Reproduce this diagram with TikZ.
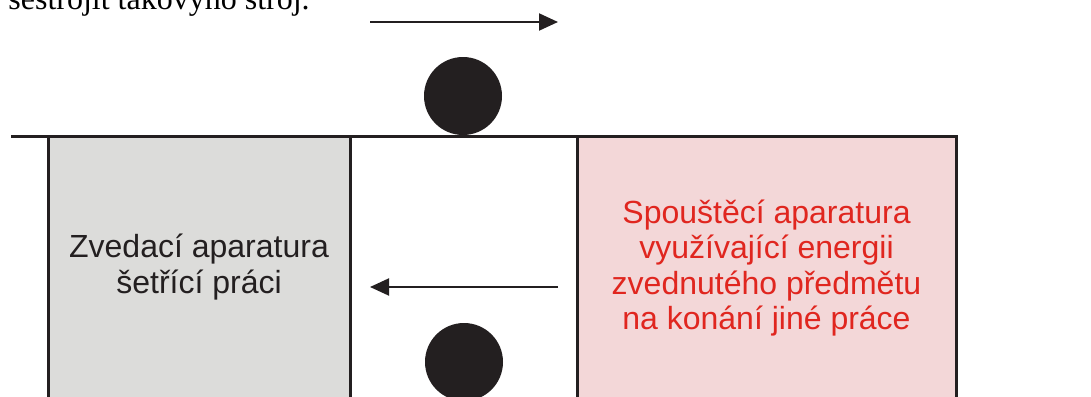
\documentclass[tikz,border=0pt]{standalone}
\usepackage{fontspec}
\setmainfont{Liberation Serif}
\setsansfont{Liberation Sans}
\usetikzlibrary{arrows.meta}
\definecolor{ink}{HTML}{231F20}
\definecolor{grayfill}{HTML}{DCDCDA}
\definecolor{pinkfill}{HTML}{F3D7D8}
\definecolor{redtext}{HTML}{E0261F}
\begin{document}
\begin{tikzpicture}[x=0.5pt,y=-0.5pt,
  box/.style={draw=ink, line width=1.5pt, inner sep=0pt, minimum height=142pt},
  label/.style={font=\sffamily\fontsize{16}{17.75}\selectfont, align=center, inner sep=0pt},
  ball/.style={circle, fill=ink, draw=none, inner sep=0pt, minimum size=39pt},
  move/.style={draw=ink, line width=1pt, -{Triangle[length=9.5pt,width=8.5pt]}},
  floor/.style={draw=ink, line width=1.5pt}]
\useasboundingbox (0,0) rectangle (1091,396);
\clip (0,0) rectangle (1091,396);
\node[anchor=base west, inner sep=0pt, font=\fontsize{16}{18}\selectfont] (caption) at (8,10) {sestrojit takovýho stroj.};
\node[box, fill=grayfill, minimum width=151pt] (lift) at (199,278) {};
\node[box, fill=pinkfill, minimum width=189.5pt] (release) at (766.5,278) {};
\node[label, text=ink] (liftlabel) at (199,267) {Zvedací aparatura\\šetřící práci};
\node[label, text=redtext] (releaselabel) at (766.5,268) {Spouštěcí aparatura\\využívající energii\\zvednutého předmětu\\na konání jiné práce};
\coordinate (floorL) at (11,136);
\coordinate (floorR) at (692,136);
\draw[floor] (floorL) -- (floorR);
\node[ball] (topball) at (463,96) {};
\node[ball] (bottomball) at (464,362) {};
\coordinate (t1) at (370,22);
\coordinate (t2) at (558,22);
\draw[move] (t1) -- (t2);
\coordinate (b1) at (558,287);
\coordinate (b2) at (370,287);
\draw[move] (b1) -- (b2);
\end{tikzpicture}
\end{document}
